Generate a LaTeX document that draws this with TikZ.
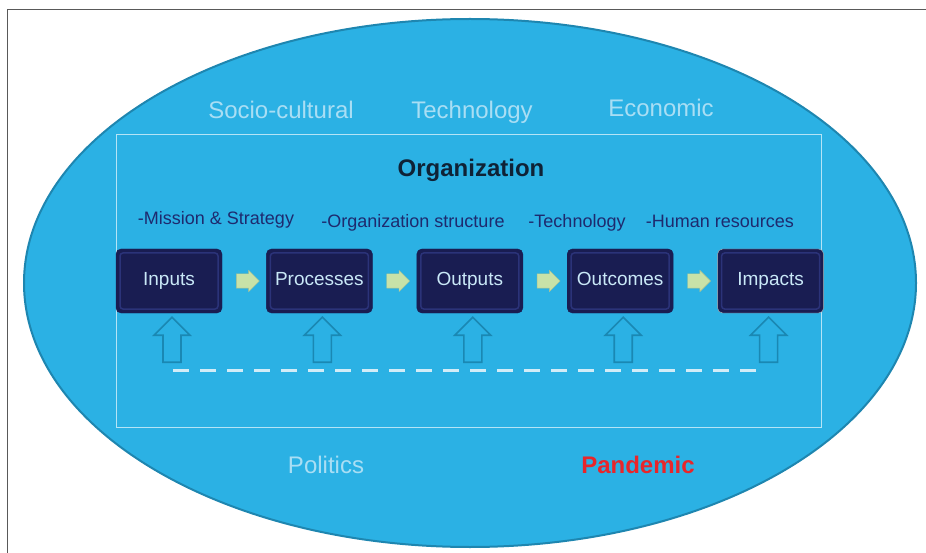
\documentclass[tikz,border=0pt]{standalone}
\usepackage{fontspec}
\setmainfont{Liberation Sans}
\usetikzlibrary{positioning,shapes.arrows,calc}

\definecolor{skyfill}{HTML}{2BB1E4}
\definecolor{skyedge}{HTML}{1E86B0}
\definecolor{paletext}{HTML}{A9DEF4}
\definecolor{navytext}{HTML}{1E2A6E}
\definecolor{orgtext}{HTML}{0F2236}
\definecolor{boxfill}{HTML}{191D52}
\definecolor{boxshine}{HTML}{2B3379}
\definecolor{boxtext}{HTML}{C9E8F7}
\definecolor{leafgreen}{HTML}{C8E2A8}
\definecolor{upedge}{HTML}{1A88B3}
\definecolor{dashcol}{HTML}{D2ECF7}
\definecolor{alertred}{HTML}{E8262B}

\begin{document}
\begin{tikzpicture}[x=1pt,y=-1pt,
    stage/.style={draw=boxfill, fill=boxfill, rounded corners=5pt,
        minimum width=106pt, minimum height=64pt, inner sep=0pt,
        text height=2ex, text depth=.25ex,
        text=boxtext, font=\fontsize{19}{22}\selectfont,
        path picture={\draw[boxshine, line width=1.5pt, rounded corners=3pt]
            ([shift={(4pt,-4pt)}]path picture bounding box.north west) rectangle
            ([shift={(-4pt,4pt)}]path picture bounding box.south east);}},
    flowarrow/.style={single arrow, fill=leafgreen, draw=leafgreen!85!black,
        line width=0.4pt, inner xsep=0pt, inner ysep=7pt, minimum height=23pt,
        single arrow head extend=3.5pt},
    hollowup/.style={draw=upedge, line width=1.6pt, line join=miter},
    factor/.style={text=paletext, font=\fontsize{24}{28}\selectfont,
        text height=1.5ex, text depth=.25ex},
    part/.style={text=navytext, font=\fontsize{18}{22}\selectfont,
        text height=1.5ex, text depth=.25ex}]
\useasboundingbox (0,0) rectangle (926,553);

% frame
\draw[gray!70!black, line width=0.8pt] (926,9) -- (7,9) -- (7,553);

% environment
\draw[skyedge, fill=skyfill, line width=2pt] (470,283) ellipse [x radius=446pt, y radius=264pt];
\draw[white!65!skyfill, line width=0.8pt] (116,134) rectangle (821,427);

\node[factor] (socio) at (281,115) {Socio-cultural};
\node[factor] (tech) at (472,115) {Technology};
\node[factor] (econ) at (661,113) {Economic};
\node[factor] (politics) at (326,470) {Politics};
\node[factor, text=alertred, font=\fontsize{24}{28}\selectfont\bfseries] (pandemic) at (638,470) {Pandemic};

\node[text=orgtext, font=\fontsize{24}{28}\selectfont\bfseries] (org) at (471,170) {Organization};

\node[part] (mission) at (216,221) {-Mission \& Strategy};
\node[part] (structure) at (413,224) {-Organization structure};
\node[part] (techpart) at (577,224) {-Technology};
\node[part] (human) at (720,224) {-Human resources};

% chain
\node[stage] (inputs) at (169,281) {Inputs};
\node[stage, right=44pt of inputs] (processes) {Processes};
\node[stage, right=44pt of processes] (outputs) {Outputs};
\node[stage, right=44pt of outputs] (outcomes) {Outcomes};
\node[stage, right=44pt of outcomes, draw=gray!60] (impacts) {Impacts};

\node[flowarrow] (f1) at ($(inputs.east)!0.5!(processes.west)$) {};
\node[flowarrow] (f2) at ($(processes.east)!0.5!(outputs.west)$) {};
\node[flowarrow] (f3) at ($(outputs.east)!0.5!(outcomes.west)$) {};
\node[flowarrow] (f4) at ($(outcomes.east)!0.5!(impacts.west)$) {};

% feedback
\foreach \b/\dx in {inputs/3,processes/3,outputs/3,outcomes/3,impacts/-2}
    \draw[hollowup] ([xshift=\dx pt,yshift=-4pt]\b.south) -- ++(18,18) -- ++(-9,0)
        -- ++(0,27) -- ++(-18,0) -- ++(0,-27) -- ++(-9,0) -- cycle;

\coordinate (dashL) at (173,370);
\coordinate (dashR) at (757,370);
\draw[dashcol, line width=3pt, dash pattern=on 16pt off 11pt] (dashL) -- (dashR);
\end{tikzpicture}
\end{document}
